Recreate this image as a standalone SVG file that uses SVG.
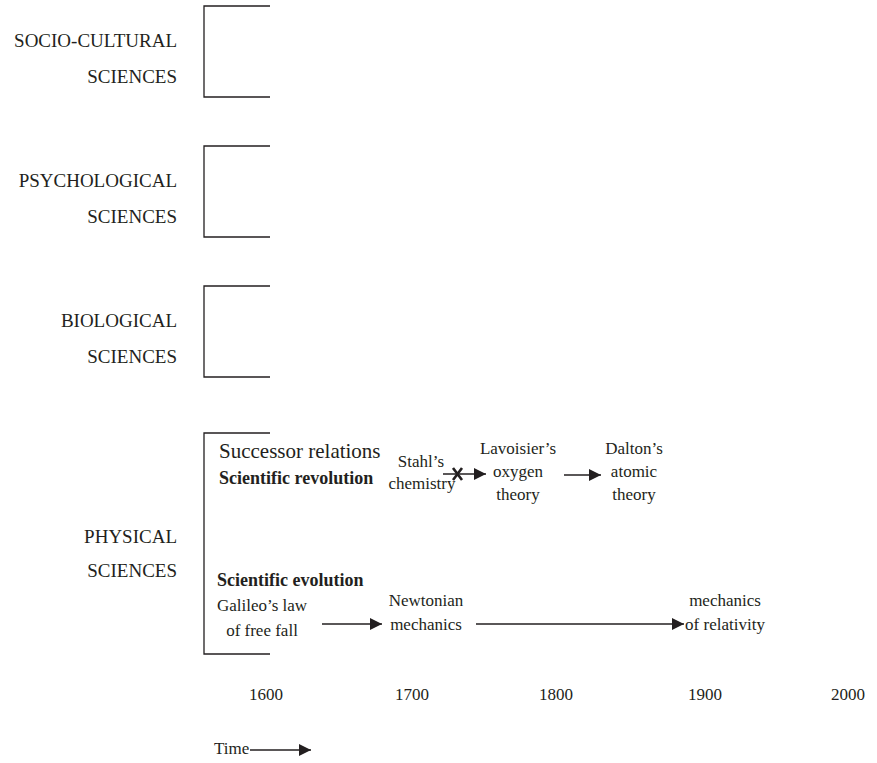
<svg xmlns="http://www.w3.org/2000/svg" width="877" height="763" viewBox="0 0 877 763">
<style>
text{font-family:'Liberation Serif','DejaVu Serif','Noto Serif',serif;fill:#231f20}
.lab{font-size:19px;text-anchor:end}
.t{font-size:17px;text-anchor:middle}
.br{fill:none;stroke:#231f20;stroke-width:1.3}
.ar{fill:none;stroke:#231f20;stroke-width:1.3}
</style>
<defs>
<marker id="ah" viewBox="0 0 10 10" refX="10" refY="5" markerWidth="18" markerHeight="12" markerUnits="userSpaceOnUse" orient="auto">
<path d="M0,0 L10,5 L0,10 z" fill="#231f20"/>
</marker>
</defs>
<rect width="877" height="763" fill="#ffffff"/>
<g id="socio">
<path class="br" d="M270,6 H204 V97 H270"/>
<text class="lab" x="177" y="47" font-family="Liberation Serif, serif">SOCIO-CULTURAL</text>
<text class="lab" x="177" y="83">SCIENCES</text>
</g>
<g id="psych">
<path class="br" d="M270,146 H204 V237 H270"/>
<text class="lab" x="177" y="187">PSYCHOLOGICAL</text>
<text class="lab" x="177" y="223">SCIENCES</text>
</g>
<g id="bio">
<path class="br" d="M270,286 H204 V377 H270"/>
<text class="lab" x="177" y="327">BIOLOGICAL</text>
<text class="lab" x="177" y="363">SCIENCES</text>
</g>
<g id="phys">
<path class="br" d="M270,433 H204 V654 H270"/>
<text class="lab" x="177" y="543">PHYSICAL</text>
<text class="lab" x="177" y="577">SCIENCES</text>
<text x="219" y="458" font-size="21">Successor relations</text>
<text x="219" y="484" font-size="18" font-weight="bold">Scientific revolution</text>
<text x="217" y="586" font-size="18" font-weight="bold">Scientific evolution</text>
</g>
<g id="stahl"><text class="t" x="421" y="467">Stahl’s</text><text class="t" x="422" y="489">chemistry</text></g>
<g id="lavoisier"><text class="t" x="518" y="454">Lavoisier’s</text><text class="t" x="518" y="477">oxygen</text><text class="t" x="518" y="500">theory</text></g>
<g id="dalton"><text class="t" x="634" y="454">Dalton’s</text><text class="t" x="634" y="477">atomic</text><text class="t" x="634" y="500">theory</text></g>
<g id="galileo"><text class="t" x="262" y="611">Galileo’s law</text><text class="t" x="262" y="636">of free fall</text></g>
<g id="newton"><text class="t" x="426" y="606">Newtonian</text><text class="t" x="426" y="630">mechanics</text></g>
<g id="relativity"><text class="t" x="725" y="606">mechanics</text><text class="t" x="725" y="630">of relativity</text></g>
<g id="axis">
<text class="t" x="266" y="700">1600</text>
<text class="t" x="412" y="700">1700</text>
<text class="t" x="556" y="700">1800</text>
<text class="t" x="705" y="700">1900</text>
<text class="t" x="848" y="700">2000</text>
<text x="214" y="754" font-size="17">Time</text>
</g>
<g id="connectors">
<line class="ar" x1="443" y1="474" x2="486" y2="474" marker-end="url(#ah)"/>
<path d="M453,468 L462,480 M462,468 L453,480" stroke="#231f20" stroke-width="2.6" fill="none"/>
<line class="ar" x1="564" y1="475" x2="601" y2="475" marker-end="url(#ah)"/>
<line class="ar" x1="322" y1="624" x2="382" y2="624" marker-end="url(#ah)"/>
<line class="ar" x1="476" y1="624" x2="684" y2="624" marker-end="url(#ah)"/>
<line class="ar" x1="250" y1="750" x2="311" y2="750" marker-end="url(#ah)"/>
</g>
</svg>
